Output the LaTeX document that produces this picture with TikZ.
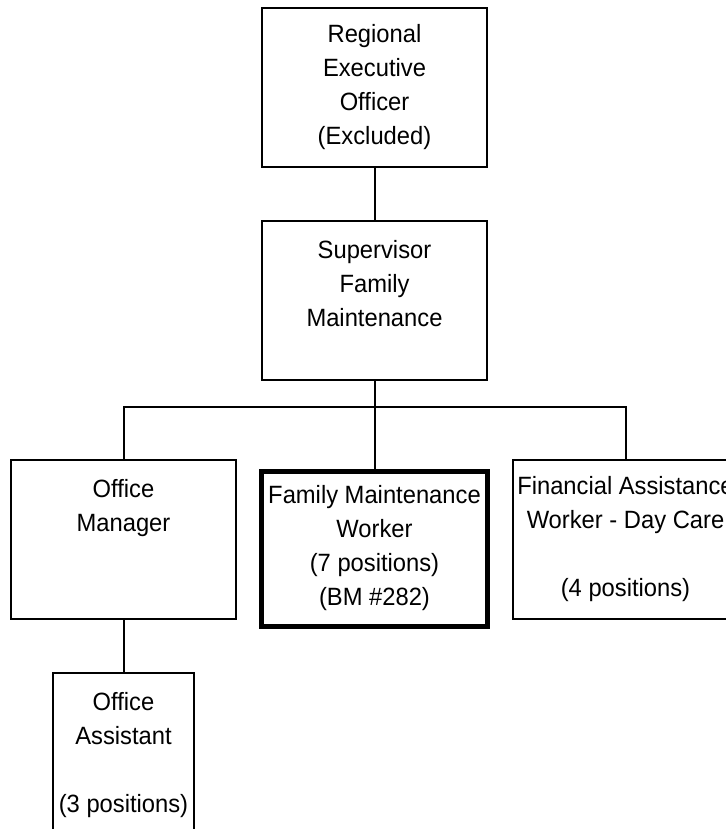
\documentclass[tikz,border=0pt]{standalone}
\usepackage{fontspec}
\setmainfont[FakeStretch=0.95]{Liberation Sans}
\usetikzlibrary{positioning}

\tikzset{
  post/.style={draw,line width=1pt,minimum width=112.5pt,minimum height=79.5pt,
    inner sep=0pt,align=center,font=\fontsize{12.5}{17}\selectfont},
  bargain/.style={post,line width=2.5pt,minimum width=113pt,minimum height=77.5pt},
  link/.style={line width=1pt}
}

\begin{document}
\begin{tikzpicture}[x=0.5pt,y=-0.5pt]
  % page, cut at the right and bottom edge
  \clip (0,0) rectangle (726,829);
  % top levels
  \node[post] (reo) at (374.5,87.5) {Regional\\Executive\\Officer\\(Excluded)};
  \node[post] (sup) at (374.5,300.5) {Supervisor\\Family\\Maintenance\\\mbox{}};
  % third level
  \node[post] (om)  at (123.5,539.5) {Office\\Manager\\\mbox{}\\\mbox{}};
  \node[bargain] (fmw) at (374.5,548.5) {Family Maintenance\\Worker\\(7 positions)\\(BM \#282)};
  \node[post] (faw) at (625.5,539.5) {Financial Assistance\\Worker - Day Care\\\mbox{}\\(4 positions)};
  % bottom
  \node[post,minimum width=70.5pt,minimum height=82.5pt] (oa) at (123.5,755.5)
    {Office\\Assistant\\\mbox{}\\(3 positions)};
  % lines
  \coordinate (bus) at (374.5,407);
  \draw[link] (reo) -- (sup);
  \draw[link] (sup) -- (fmw);
  \draw[link] (om.north) |- (bus) -| (faw.north);
  \draw[link] (om) -- (oa);
\end{tikzpicture}
\end{document}
